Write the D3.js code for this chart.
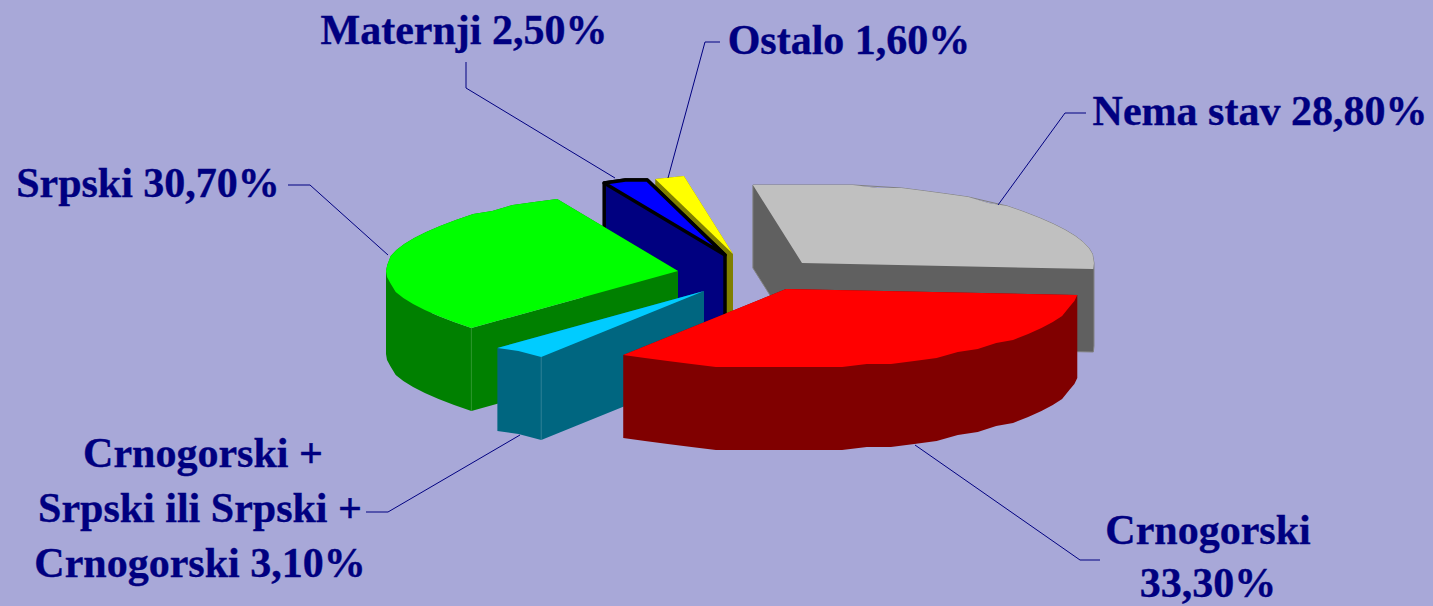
<!DOCTYPE html>
<html><head><meta charset="utf-8">
<style>html,body{margin:0;padding:0;background:#a8a8d8;overflow:hidden}svg{display:block}
text{font-family:"Liberation Serif",serif;font-weight:bold;fill:#000080;font-size:42px;stroke:#000080;stroke-width:.35px}</style>
<script src="https://cdn.jsdelivr.net/npm/d3@7"></script></head><body>
<svg id="c" width="1433" height="606"></svg>
<script>
const categories=["Crnogorski","Crnogorski + Srpski ili Srpski + Crnogorski","Srpski","Maternji","Ostalo","Nema stav"];
const values=[33.3,3.1,30.7,2.5,1.6,28.8];
const topColors=["#ff0000","#00ccff","#00ff00","#0000ff","#ffff00","#c0c0c0"];
const wallColors=["#800000","#006680","#008000","#000080","#808000","#606060"];
const strokes=["none","none","none","#000000","none","#808080"];
const strokeWidths=[0,0,0,3.5,0,1];
const explodeX=[26,-56,-82,-35,-27,42];
const explodeY=[14,16,-4,-20,-21,-12];
const paintOrder=[5,4,3,2,1,0];
const labelLines=[
 {t:"Maternji 2,50%",x:464,y:44},
 {t:"Ostalo 1,60%",x:849,y:54},
 {t:"Nema stav 28,80%",x:1260,y:125},
 {t:"Srpski 30,70%",x:148,y:197},
 {t:"Crnogorski +",x:203,y:467},
 {t:"Srpski ili Srpski +",x:200,y:522},
 {t:"Crnogorski 3,10%",x:200,y:577},
 {t:"Crnogorski",x:1208,y:544},
 {t:"33,30%",x:1208,y:596.5}];
const leaders=[
 [[466,62],[466,88],[615,178]],
 [[720,42],[705,42],[668,178]],
 [[1086,113],[1065,113],[998,205]],
 [[288,185],[310,185],[388,255]],
 [[388,512],[366,512]],
 [[388,512],[520,435]],
 [[1100,560],[1080,560],[915,445]]];

const cx=760,cy=275,rx=292,ry=79,depth=83;
const svg=d3.select("#c");
const start=94*Math.PI/180;
const arcs=d3.pie().sort(null).startAngle(start).endAngle(start+2*Math.PI)(values);
const px=d3.scaleLinear().domain([-1,1]).range([-rx,rx]);
const py=d3.scaleLinear().domain([-1,1]).range([-ry,ry]);
const line=d3.line();
const facet=5*Math.PI/180, snap=3;
function topPts(a,i){
  const ox=cx+explodeX[i],oy=cy+explodeY[i];
  const pts=[[ox,oy]];
  const n=Math.max(1,Math.round((a.endAngle-a.startAngle)/facet));
  for(const k of d3.range(n+1)){
    const t=a.startAngle+(a.endAngle-a.startAngle)*k/n;
    const y=py(-Math.cos(t));
    pts.push([ox+px(Math.sin(t)),oy+Math.round(y/snap)*snap]);
  }
  return pts;
}
function quad(p,q){
  const poly=[p,q,[q[0],q[1]+depth],[p[0],p[1]+depth]];
  if(d3.polygonArea(poly)<0) poly.reverse();   // same winding everywhere, so one path fills without seams
  return line(poly)+"Z";
}
paintOrder.forEach(i=>{
  const pts=topPts(arcs[i],i);
  const g=svg.append("g").attr("class","slice").attr("data-name",categories[i]);
  const edges=pts.map((p,k)=>[p,pts[(k+1)%pts.length]]);
  g.append("path").attr("d",edges.map(([p,q])=>quad(p,q)).join(""))
   .attr("fill",wallColors[i]).attr("fill-rule","nonzero");
  if(strokes[i]!=="none"){
    const hull=d3.polygonHull(pts.concat(pts.map(p=>[p[0],p[1]+depth])));
    g.append("path").attr("d",line(hull)+"Z").attr("fill","none")
     .attr("stroke",strokes[i]).attr("stroke-width",strokeWidths[i]).attr("stroke-linejoin","round");
  }
  if(i===1||i===2){
    const s=pts[1];
    g.append("line").attr("x1",s[0]).attr("y1",s[1]).attr("x2",s[0]).attr("y2",s[1]+depth)
     .attr("stroke","#ffffff").attr("stroke-opacity",.18);
  }
  g.append("path").attr("d",line(pts)+"Z").attr("fill",topColors[i])
   .attr("stroke",strokeWidths[i]>2?strokes[i]:"none").attr("stroke-width",strokeWidths[i]).attr("stroke-linejoin","round");
});
svg.append("g").selectAll("path").data(leaders).join("path")
 .attr("d",d=>line(d)).attr("fill","none").attr("stroke","#000080").attr("stroke-width",1);
svg.append("g").selectAll("text").data(labelLines).join("text")
 .attr("x",d=>d.x).attr("y",d=>d.y).attr("text-anchor","middle").text(d=>d.t);
</script></body></html>
